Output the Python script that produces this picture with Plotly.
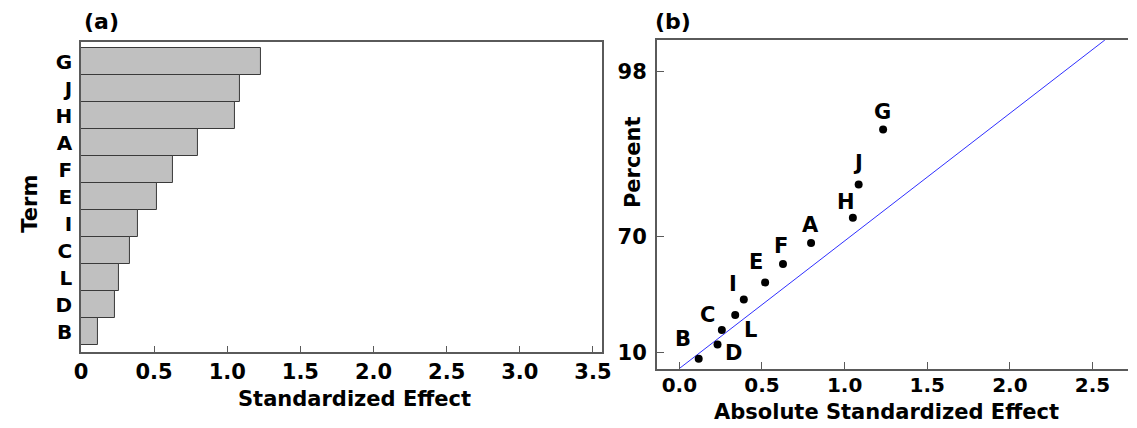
from statistics import NormalDist
import plotly.graph_objects as go

# Effects of the terms, largest first
terms = ["G", "J", "H", "A", "F", "E", "I", "C", "L", "D", "B"]
effects = [1.233, 1.085, 1.050, 0.797, 0.627, 0.519, 0.390, 0.338, 0.257, 0.231, 0.117]
# Half-normal plotting positions (percent) of each term
percents = [93.9, 85.1, 76.3, 67.5, 58.8, 50.0, 41.2, 32.5, 23.7, 14.9, 6.1]

# Reference line end points (effect, percent)
ref_effect = [0.0, 2.575]
ref_percent = [0.0, 99.0]

# Axis ticks
bar_ticks = [0, 0.5, 1.0, 1.5, 2.0, 2.5, 3.0, 3.5]
bar_ticktext = ["0", "0.5", "1.0", "1.5", "2.0", "2.5", "3.0", "3.5"]
hn_xticks = [0.0, 0.5, 1.0, 1.5, 2.0, 2.5]
hn_xticktext = ["0.0", "0.5", "1.0", "1.5", "2.0", "2.5"]
pct_ticks = [10, 70, 98]

# Label offsets (px) for each point label
label_shift = {
    "G": (-1, 18), "J": (-1, 21), "H": (-7, 16), "A": (-1, 18), "F": (-2, 18),
    "E": (-9, 20), "I": (-11, 15), "C": (-28, 0), "L": (29, 0), "D": (16, -8),
    "B": (-16, 20),
}

nd = NormalDist()


def halfnorm(p):
    """Half-normal probability scale: percent -> quantile."""
    return nd.inv_cdf(0.5 + p / 200.0)


FONT = "DejaVu Sans"
AXC = "#5a5a5a"
W, H = 1137, 428

fig = go.Figure()

# (a) Pareto-style bar chart
fig.add_trace(go.Bar(
    x=effects, y=terms, orientation="h", width=1.0,
    marker=dict(color="#c0c0c0", line=dict(color="#3a3a3a", width=1)),
    xaxis="x", yaxis="y", showlegend=False,
))

# (b) half-normal plot
fig.add_trace(go.Scatter(
    x=ref_effect, y=[halfnorm(p) for p in ref_percent], mode="lines",
    line=dict(color="#2f2fff", width=1), xaxis="x2", yaxis="y2", showlegend=False,
))
fig.add_trace(go.Scatter(
    x=effects, y=[halfnorm(p) for p in percents], mode="markers",
    marker=dict(color="black", size=8), xaxis="x2", yaxis="y2", showlegend=False,
    cliponaxis=False,
))

annotations = []
for t, e, p in zip(terms, effects, percents):
    dx, dy = label_shift[t]
    annotations.append(dict(
        x=e, y=halfnorm(p), xref="x2", yref="y2", text=t, showarrow=False,
        xshift=dx, yshift=dy, xanchor="center", yanchor="middle",
        font=dict(family=FONT, size=21, color="black", weight="bold"),
    ))


def paper_x(px):
    return px / W


def paper_y(py):
    return 1 - py / H


title_font = dict(family=FONT, size=21, color="black", weight="bold")
annotations += [
    dict(x=paper_x(96), y=paper_y(21), xref="paper", yref="paper", text="(a)",
         showarrow=False, font=dict(family=FONT, size=22, color="black", weight="bold"),
         xanchor="center", yanchor="middle"),
    dict(x=paper_x(676), y=paper_y(22), xref="paper", yref="paper", text="(b)",
         showarrow=False, font=dict(family=FONT, size=22, color="black", weight="bold"),
         xanchor="center", yanchor="middle"),
    dict(x=paper_x(352), y=paper_y(399), xref="paper", yref="paper",
         text="Standardized Effect", showarrow=False, font=title_font,
         xanchor="center", yanchor="middle"),
    dict(x=paper_x(23), y=paper_y(204), xref="paper", yref="paper", text="Term",
         showarrow=False, font=title_font, textangle=-90,
         xanchor="center", yanchor="middle"),
    dict(x=paper_x(892), y=paper_y(412), xref="paper", yref="paper",
         text="Absolute Standardized Effect", showarrow=False, font=title_font,
         xanchor="center", yanchor="middle"),
    dict(x=paper_x(635), y=paper_y(162), xref="paper", yref="paper", text="Percent",
         showarrow=False, font=title_font, textangle=-90,
         xanchor="center", yanchor="middle"),
]

tick_font = dict(family=FONT, size=21, color="black", weight="bold")
tick_font_b = dict(family=FONT, size=20, color="black", weight="bold")
cat_font = dict(family=FONT, size=20, color="black", weight="bold")

fig.update_layout(
    width=W, height=H, margin=dict(l=0, r=0, t=0, b=0),
    paper_bgcolor="white", plot_bgcolor="white", bargap=0,
    annotations=annotations,
    xaxis=dict(
        domain=[paper_x(75), paper_x(603.5)], range=[0, 3.562],
        tickvals=bar_ticks, ticktext=bar_ticktext, ticks="inside", ticklen=6,
        tickcolor=AXC, showline=True, linecolor=AXC, linewidth=1.5, mirror=True,
        showgrid=False, zeroline=False, tickfont=tick_font, ticklabelstandoff=0,
        anchor="y",
    ),
    yaxis=dict(
        domain=[paper_y(351.7), paper_y(42)], range=[-0.733, 10.733],
        categoryorder="array", categoryarray=terms[::-1],
        ticks="", showline=True, linecolor=AXC, linewidth=1.5, mirror=True,
        showgrid=False, zeroline=False, tickfont=cat_font, ticklabelstandoff=3,
        anchor="x",
    ),
    xaxis2=dict(
        domain=[paper_x(659), 1.0], range=[-0.137, 2.715],
        tickvals=hn_xticks, ticktext=hn_xticktext, ticks="inside", ticklen=7,
        tickcolor=AXC, showline=True, linecolor=AXC, linewidth=1.5, mirror=True,
        showgrid=False, zeroline=False, tickfont=tick_font_b, ticklabelstandoff=-2,
        anchor="y2",
    ),
    yaxis2=dict(
        domain=[paper_y(368.5), paper_y(40)], range=[0, halfnorm(99.0)],
        tickvals=[halfnorm(p) for p in pct_ticks], ticktext=[str(p) for p in pct_ticks],
        ticks="inside", ticklen=8, tickcolor=AXC,
        showline=True, linecolor=AXC, linewidth=1.5, mirror=False,
        showgrid=False, zeroline=False, tickfont=tick_font, ticklabelstandoff=4,
        anchor="x2",
    ),
)

fig.write_html("out.html")
